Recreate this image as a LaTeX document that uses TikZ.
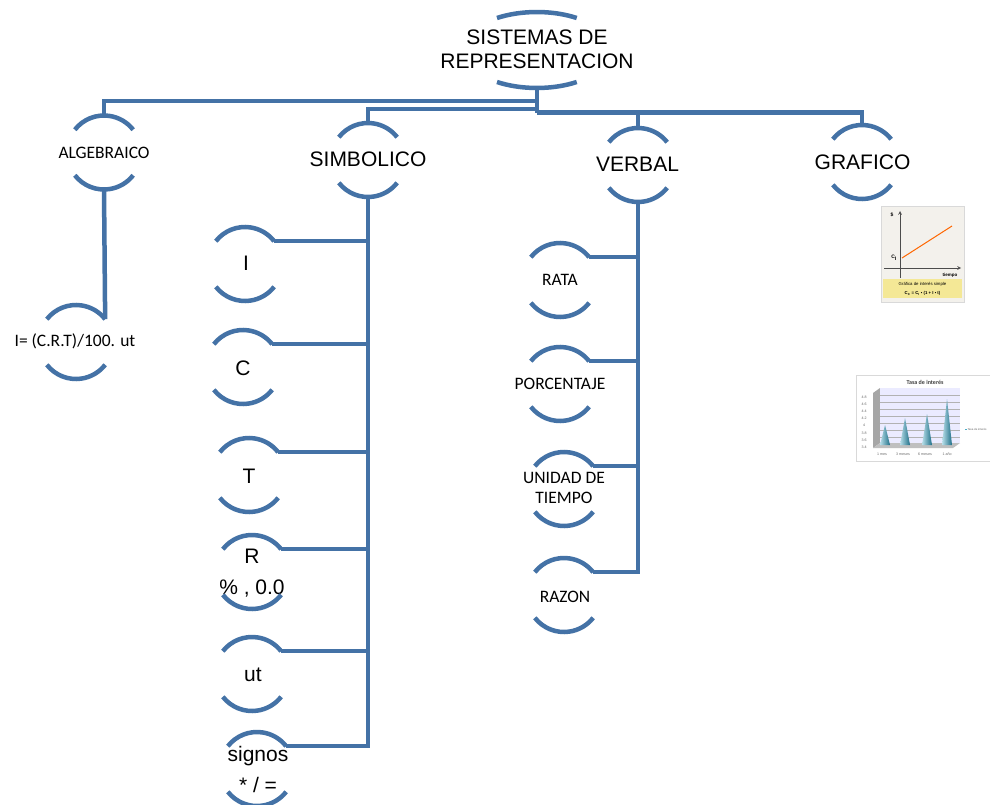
\documentclass[tikz,border=0pt]{standalone}
\usepackage{fontspec}
\setmainfont{Liberation Sans}
\newfontfamily\calfont{Carlito}
\usetikzlibrary{calc,shapes.geometric}
\definecolor{bl}{RGB}{68,114,166}
\definecolor{imgbg}{RGB}{243,241,236}
\definecolor{imgyel}{RGB}{244,232,150}
\definecolor{conec}{RGB}{75,172,198}
\definecolor{conedk}{RGB}{30,110,135}
\tikzset{
  conn/.style={draw=bl, line width=4.5pt},
  arcline/.style={draw=bl, line width=4.5pt},
  cn/.style={circle, minimum size=74pt, inner sep=0pt, outer sep=0pt},
  ar/.style={font=\fontsize{21}{24}\selectfont, align=center, inner sep=0pt},
  artwo/.style={font=\fontsize{21}{31}\selectfont, align=center, inner sep=0pt},
  cb/.style={font=\calfont\fontsize{17.5}{20.5}\selectfont, align=center, inner sep=0pt},
  tiny/.style={font=\fontsize{3.6}{4}\selectfont, inner sep=0pt, text=black!60},
}
\newcommand\brackets[1]{%
  \draw[arcline] (#1.142) arc[start angle=142,end angle=38,radius=37];
  \draw[arcline] (#1.218) arc[start angle=218,end angle=322,radius=37];}
\begin{document}
\begin{tikzpicture}[x=1pt,y=1pt]
\clip (0,0) rectangle (990,-805);
\fill[white] (0,0) rectangle (990,-805);

% ---------- top node
\node[ellipse, minimum width=148pt, minimum height=76pt, inner sep=0pt] (top) at (537,-50) {};
\node[ar] (toptx) at (537,-49.5) {SISTEMAS DE\\REPRESENTACION};
\draw[arcline] ($(top.center)+(-40,32)$) arc[start angle=122.6,end angle=57.4,x radius=74,y radius=38];
\draw[arcline] ($(top.center)+(-40,-32)$) arc[start angle=237.4,end angle=302.6,x radius=74,y radius=38];

% ---------- first level
\node[cn] (alg) at (104,-152.5) {};
\node[cb] (algtx) at (104,-153) {ALGEBRAICO};
\node[cn] (sim) at (368,-160) {};
\node[ar] (simtx) at (368,-159.5) {SIMBOLICO};
\node[cn] (verb) at (638,-165) {};
\node[ar] (verbtx) at (637.5,-164.5) {VERBAL};
\node[cn] (graf) at (862,-162) {};
\node[ar] (graftx) at (862.5,-162.5) {GRAFICO};
\brackets{alg}\brackets{sim}\brackets{verb}\brackets{graf}

\coordinate (j1) at ($(top.south)+(0,-13)$);
\coordinate (j2) at ($(top.south)+(0,-21)$);
\coordinate (j3) at ($(top.south)+(0,-24.5)$);
\draw[conn] (top.south) -- (j3);
\draw[conn] (j1) -| (alg.north);
\draw[conn] (j2) -| (sim.north);
\draw[conn] (j3) -| (graf.north);
\draw[conn] (j3 -| verb.north) -- (verb.north);

% ---------- algebraico child
\node[cn] (ieq) at (76,-342) {};
\node[cb] (ieqtx) at (75,-341) {I= (C.R.T)/100. ut};
\brackets{ieq}
\draw[conn] (alg.south) -- (ieq.38);

% ---------- simbolico children
\node[cn] (cI) at (245,-264) {};
\node[ar] (cItx) at (246,-263) {I};
\node[cn] (cC) at (243,-367) {};
\node[ar] (cCtx) at (243,-368) {C};
\node[cn] (cT) at (249,-475) {};
\node[ar] (cTtx) at (249,-476) {T};
\node[cn] (cR) at (252,-572) {};
\node[artwo] (cRtx) at (252,-573) {R\\\% , 0.0};
\node[cn] (cut) at (252,-674) {};
\node[ar] (cuttx) at (253,-675) {ut};
\node[cn] (csg) at (257,-769) {};
\node[artwo] (csgtx) at (258,-769) {signos\\* / =};
\brackets{cI}\brackets{cC}\brackets{cT}\brackets{cR}\brackets{cut}\brackets{csg}
\draw[conn] (sim.south) |- (csg.38);
\foreach \n in {cI,cC,cT,cR,cut}{\draw[conn] (\n.38) -- (\n.38 -| sim.south);}

% ---------- verbal children
\node[cn] (vra) at (560,-280) {};
\node[cb] (vratx) at (560,-280) {RATA};
\node[cn] (vpo) at (560,-384) {};
\node[cb] (vpotx) at (560,-384) {PORCENTAJE};
\node[cn] (vun) at (564,-489) {};
\node[cb] (vuntx) at (564,-488) {UNIDAD DE\\TIEMPO};
\node[cn] (vrz) at (564,-595) {};
\node[cb] (vrztx) at (565,-597) {RAZON};
\brackets{vra}\brackets{vpo}\brackets{vun}\brackets{vrz}
\draw[conn] (verb.south) |- (vrz.38);
\foreach \n in {vra,vpo,vun}{\draw[conn] (\n.38) -- (\n.38 -| verb.south);}

% ---------- picture 1 (simple interest graph)
\fill[imgbg] (881,-206) rectangle (964,-302);
\draw[black!15, line width=0.4pt] (881,-206) rectangle (964,-302);
\fill[imgyel] (883,-279) rectangle (962,-298);
\draw[black!70, line width=0.7pt, -stealth] (900,-278) -- (900,-211);
\draw[black!70, line width=0.7pt, -stealth] (884,-268) -- (961,-268);
\draw[orange!80!red, line width=1pt] (902,-258) -- (952,-226);
\node[font=\bfseries\fontsize{5}{5}\selectfont, inner sep=0pt] (p1d) at (892,-215) {\$};
\node[font=\bfseries\fontsize{5}{5}\selectfont, inner sep=0pt] (p1c) at (894,-258) {C\textsubscript{I}};
\node[font=\bfseries\fontsize{4.5}{5}\selectfont, inner sep=0pt] (p1t) at (950,-275) {tiempo};
\node[font=\fontsize{4.3}{5}\selectfont, inner sep=0pt] (p1a) at (922.5,-284) {Gráfica de interés simple};
\node[font=\bfseries\fontsize{4.3}{5}\selectfont, inner sep=0pt] (p1b) at (922.5,-293) {C\textsubscript{C} = C\textsubscript{I} • (1 + I • t)};

% ---------- picture 2 (bar chart)
\fill[white] (856,-375) rectangle (995,-461);
\draw[black!15, line width=0.4pt] (856,-375) rectangle (995,-461);
\node[font=\calfont\bfseries\fontsize{6}{6}\selectfont, inner sep=0pt, text=black!75] (p2t) at (925,-382) {Tasa de interés};
\fill[black!35] (873,-393) -- (880,-388) -- (880,-443) -- (873,-448) -- cycle;
\fill[blue!8!white] (880,-388) rectangle (960,-443);
\fill[black!25] (873,-448) -- (880,-443) -- (960,-443) -- (953,-448) -- cycle;
\foreach \yy in {395,402,409,416,423,430,437}{\draw[black!30, line width=0.3pt] (880,-\yy) -- (960,-\yy);}
\foreach \xx/\tt in {885/425,905/418,927/414,947/399}{
  \shade[left color=conec!40, right color=conedk] (\xx-5,-445) -- (\xx,-\tt) -- (\xx+5,-445) -- cycle;}
\foreach \yy/\lab [count=\i] in {397/4.8,404/4.6,411/4.4,418.5/4.2,425.5/4,433/3.8,440/3.6,447/3.4}{
  \node[tiny] (yl\i) at (864,-\yy) {\lab};}
\node[tiny] (xl1) at (882,-454) {1 mes};
\node[tiny] (xl2) at (903,-454) {3 meses};
\node[tiny] (xl3) at (925,-454) {6 meses};
\node[tiny] (xl4) at (947,-454) {1 año};
\fill[conec] (965,-428.7) rectangle (966.6,-430.3);
\node[tiny, anchor=west, font=\fontsize{2.8}{3}\selectfont] (leg) at (967.3,-429.5) {Tasa de interés};
\end{tikzpicture}
\end{document}
